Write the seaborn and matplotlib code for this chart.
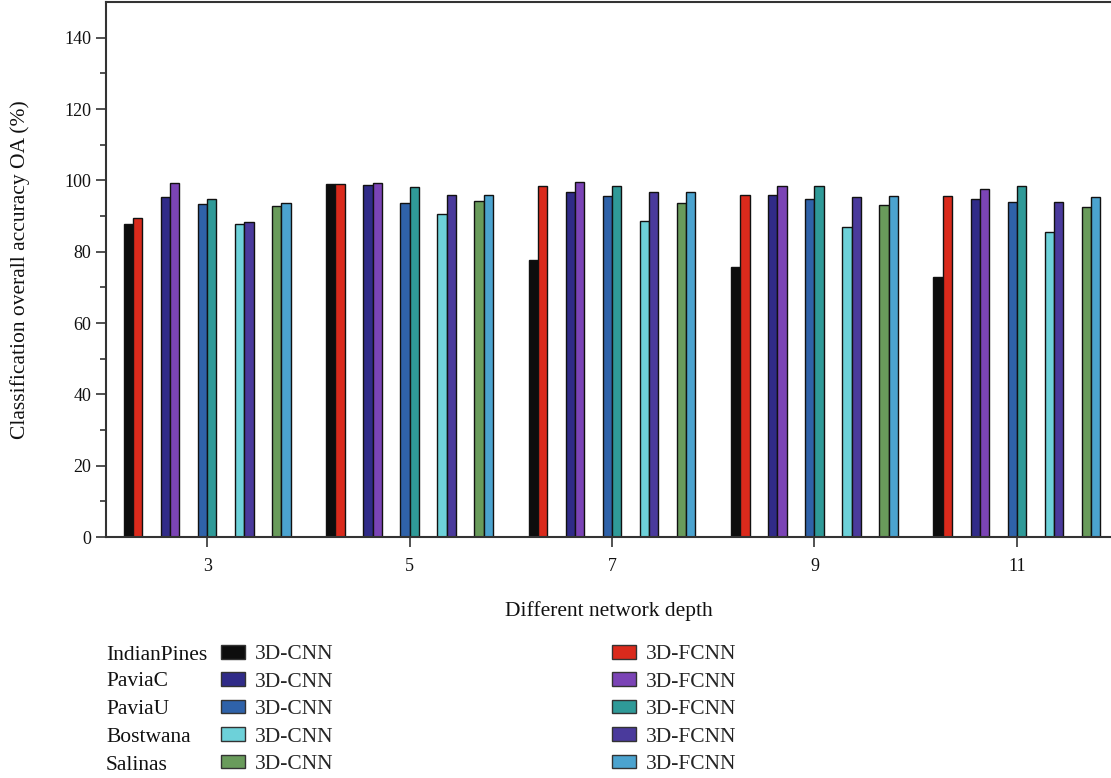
import numpy as np
import pandas as pd
import matplotlib
matplotlib.use("Agg")
import matplotlib.pyplot as plt
from matplotlib.patches import Patch
import seaborn as sns

# ---------------- data ----------------
depths = ["3", "5", "7", "9", "11"]
datasets = ["IndianPines", "PaviaC", "PaviaU", "Bostwana", "Salinas"]
models = ["3D-CNN", "3D-FCNN"]

indianpines_cnn = [87.8, 99.0, 77.7, 75.7, 73.0]
indianpines_fcnn = [89.5, 99.0, 98.4, 96.0, 95.5]
paviac_cnn = [95.3, 98.7, 96.7, 96.0, 94.8]
paviac_fcnn = [99.2, 99.2, 99.5, 98.5, 97.6]
paviau_cnn = [93.5, 93.7, 95.5, 94.8, 93.9]
paviau_fcnn = [94.7, 98.0, 98.4, 98.4, 98.4]
bostwana_cnn = [87.7, 90.6, 88.7, 86.8, 85.5]
bostwana_fcnn = [88.2, 96.0, 96.7, 95.3, 93.9]
salinas_cnn = [92.8, 94.3, 93.7, 93.0, 92.4]
salinas_fcnn = [93.6, 96.0, 96.7, 95.6, 95.3]

cnn_colors = ["#0d0d0d", "#302b88", "#2f62a9", "#6dd1d9", "#699b5b"]
fcnn_colors = ["#da2a1c", "#7b44b6", "#2f9a98", "#4a3a9c", "#4ba3cf"]

series = {
    ("IndianPines", "3D-CNN"): indianpines_cnn,
    ("IndianPines", "3D-FCNN"): indianpines_fcnn,
    ("PaviaC", "3D-CNN"): paviac_cnn,
    ("PaviaC", "3D-FCNN"): paviac_fcnn,
    ("PaviaU", "3D-CNN"): paviau_cnn,
    ("PaviaU", "3D-FCNN"): paviau_fcnn,
    ("Bostwana", "3D-CNN"): bostwana_cnn,
    ("Bostwana", "3D-FCNN"): bostwana_fcnn,
    ("Salinas", "3D-CNN"): salinas_cnn,
    ("Salinas", "3D-FCNN"): salinas_fcnn,
}

rows = []
for (ds, m), vals in series.items():
    for d, v in zip(depths, vals):
        rows.append({"depth": d, "series": f"{ds} {m}", "value": v})
df = pd.DataFrame(rows)

# hue order with empty spacer levels between dataset pairs
hue_order = []
palette = {}
for i, ds in enumerate(datasets):
    hue_order += [f"{ds} 3D-CNN", f"{ds} 3D-FCNN"]
    palette[f"{ds} 3D-CNN"] = cnn_colors[i]
    palette[f"{ds} 3D-FCNN"] = fcnn_colors[i]
    if i < len(datasets) - 1:
        for k in range(2):
            key = f"_gap{i}{k}"
            hue_order.append(key)
            palette[key] = "#ffffff"

# ---------------- style ----------------
sns.set_theme(style="ticks")
plt.rcParams["font.family"] = ["Liberation Serif", "DejaVu Serif"]
FS_TICK = 13
FS = 15.5
plt.rcParams["font.size"] = FS

W, H = 1111, 778
fig = plt.figure(figsize=(W / 100, H / 100), dpi=100)
ax = fig.add_axes([106 / W, 1 - 537 / H, 1 - 106 / W, (537 - 2) / H])

sns.barplot(data=df, x="depth", y="value", hue="series", order=depths,
            hue_order=hue_order, palette=palette, width=0.824,
            edgecolor="#111111", linewidth=1.0, legend=False, ax=ax,
            saturation=1, errorbar=None)

ax.set_ylim(0, 150)
ax.set_xlim(-0.5, 4.465)
ax.set_yticks(np.arange(0, 141, 20))
ax.set_yticks(np.arange(10, 141, 20), minor=True)
ax.tick_params(axis="both", which="major", direction="out", length=7,
               width=1.2, color="#333333", labelsize=FS_TICK, labelcolor="#111111")
ax.tick_params(axis="y", which="minor", direction="out", length=4,
               width=1.2, color="#333333")
ax.tick_params(axis="x", pad=8)
for s in ["left", "bottom", "top"]:
    ax.spines[s].set_color("#333333")
    ax.spines[s].set_linewidth(1.5)
ax.spines["right"].set_visible(False)

ax.set_xlabel("Different network depth", fontsize=FS, color="#111111", labelpad=19)
ax.set_ylabel("Classification overall accuracy OA (%)", fontsize=FS,
              color="#111111", labelpad=25)

# ---------------- legend ----------------
row_y = [655, 682, 710, 737, 765]
for ds, y in zip(datasets, row_y):
    fig.text(106 / W, 1 - y / H, ds, fontsize=FS, va="center", ha="left",
             color="#111111")

cnn_handles = [Patch(facecolor=c, edgecolor="#333333", linewidth=1.0) for c in cnn_colors]
fcnn_handles = [Patch(facecolor=c, edgecolor="#333333", linewidth=1.0) for c in fcnn_colors]

common = dict(frameon=False, loc="upper left", borderpad=0, borderaxespad=0,
              handlelength=1.12, handleheight=0.6, handletextpad=0.47,
              labelspacing=0.37, fontsize=FS)
leg1 = fig.legend(cnn_handles, ["3D-CNN"] * 5,
                  bbox_to_anchor=(221 / W, 1 - 645 / H), **common)
leg2 = fig.legend(fcnn_handles, ["3D-FCNN"] * 5,
                  bbox_to_anchor=(612 / W, 1 - 645 / H), **common)

fig.savefig("out.png", dpi=100)
